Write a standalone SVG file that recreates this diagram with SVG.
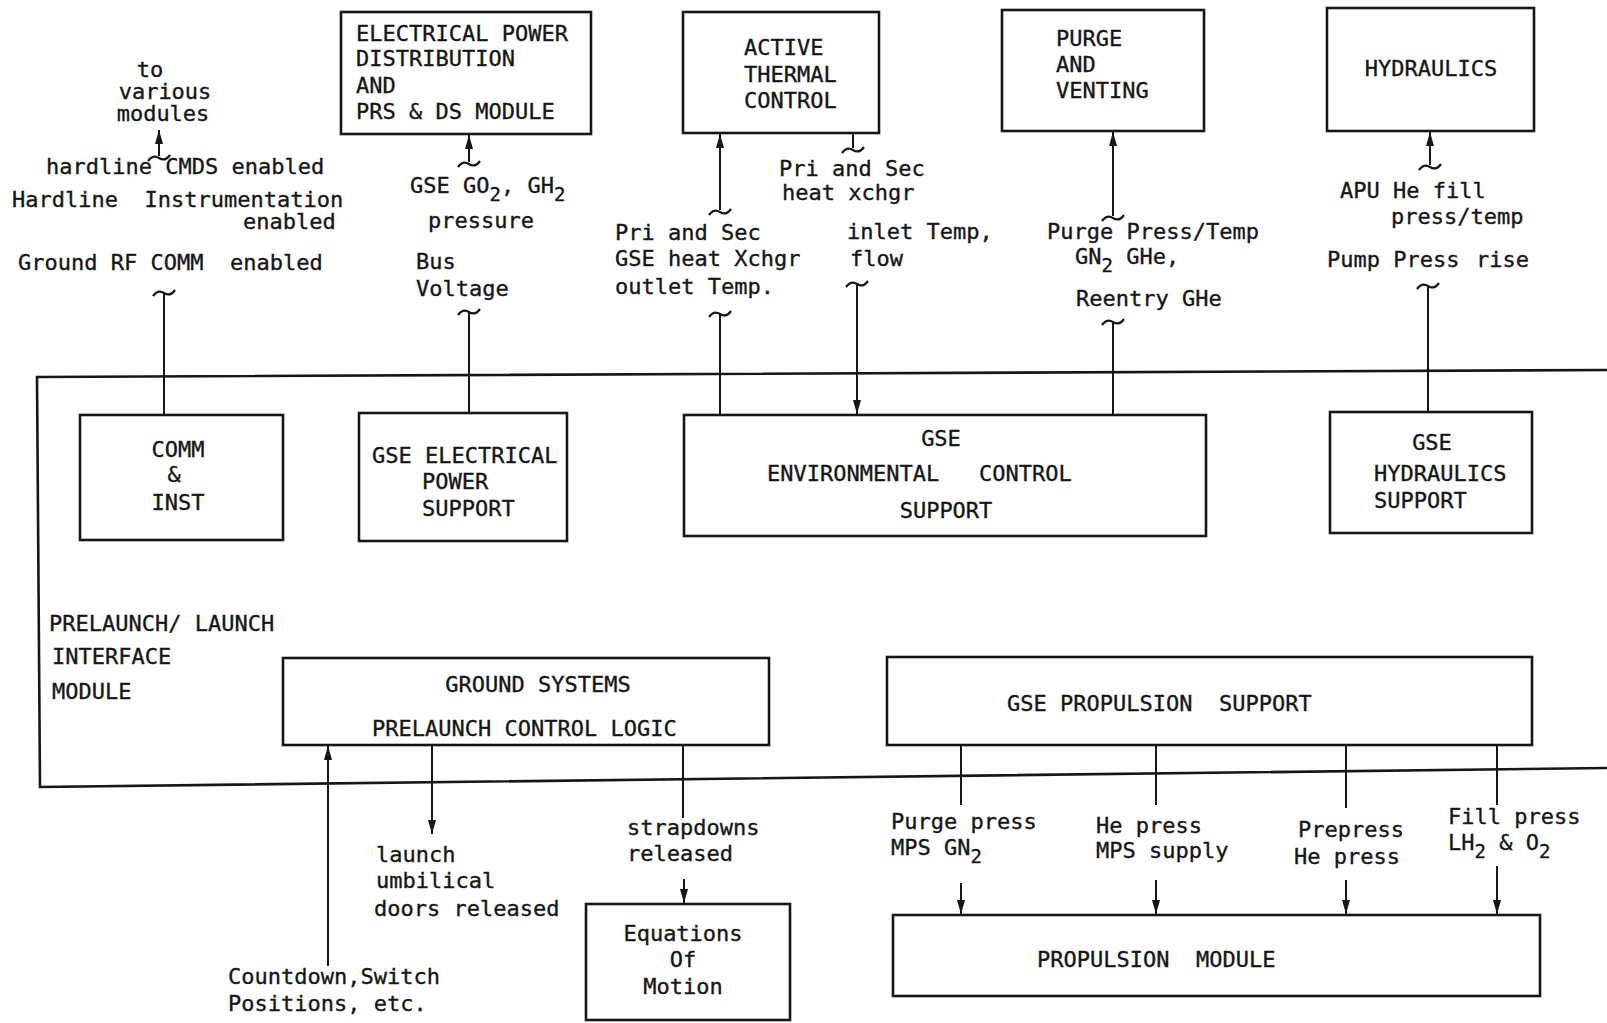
<svg xmlns="http://www.w3.org/2000/svg" xmlns:xlink="http://www.w3.org/1999/xlink" width="1607" height="1023" viewBox="0 0 1607 1023">
<style>
text{font-family:"DejaVu Sans Mono","Liberation Mono",monospace;font-size:22px;fill:#161616;stroke:#161616;stroke-width:0.35;white-space:pre}
.c{text-anchor:middle}
.box{fill:none;stroke:#161616;stroke-width:2.6}
.ln{fill:none;stroke:#161616;stroke-width:2}
.sub{font-size:19px}
</style>
<defs>
<marker id="ah" viewBox="0 0 14 8" markerWidth="14" markerHeight="8" refX="14" refY="4" orient="auto" markerUnits="userSpaceOnUse">
<path d="M0,0 L14,4 L0,8 z" fill="#161616"/>
</marker>
<path id="tl" d="M-11,4 q5,-7 11,-3 t11,-3" fill="none" stroke="#161616" stroke-width="2.2"/>
</defs>
<rect width="1607" height="1023" fill="#ffffff"/>

<g id="boundary">
<path class="box" d="M1607,370 L37,377 L40,787 L1607,768"/>
<text x="49" y="631">PRELAUNCH/ LAUNCH</text>
<text x="52" y="664">INTERFACE</text>
<text x="52" y="699">MODULE</text>
</g>

<g id="n-elec-dist">
<rect class="box" x="341" y="12" width="250" height="122"/>
<text x="356" y="41">ELECTRICAL POWER</text>
<text x="356" y="66">DISTRIBUTION</text>
<text x="356" y="93">AND</text>
<text x="356" y="119">PRS &amp; DS MODULE</text>
</g>
<g id="n-thermal">
<rect class="box" x="683" y="12" width="196" height="121"/>
<text x="744" y="55">ACTIVE</text>
<text x="744" y="82">THERMAL</text>
<text x="744" y="108">CONTROL</text>
</g>
<g id="n-purge">
<rect class="box" x="1002" y="10" width="202" height="121"/>
<text x="1056" y="46">PURGE</text>
<text x="1056" y="72">AND</text>
<text x="1056" y="98">VENTING</text>
</g>
<g id="n-hydraulics">
<rect class="box" x="1327" y="8" width="207" height="123"/>
<text class="c" x="1431" y="76">HYDRAULICS</text>
</g>

<g id="n-comm">
<rect class="box" x="80" y="415" width="203" height="125"/>
<text class="c" x="178" y="457">COMM</text>
<text class="c" x="174" y="482">&amp;</text>
<text class="c" x="178" y="510">INST</text>
</g>
<g id="n-gse-elec">
<rect class="box" x="359" y="413" width="208" height="128"/>
<text x="372" y="463">GSE ELECTRICAL</text>
<text x="422" y="489">POWER</text>
<text x="422" y="516">SUPPORT</text>
</g>
<g id="n-gse-env">
<rect class="box" x="684" y="415" width="522" height="121"/>
<text class="c" x="941" y="446">GSE</text>
<text x="767" y="481">ENVIRONMENTAL   CONTROL</text>
<text class="c" x="946" y="518">SUPPORT</text>
</g>
<g id="n-gse-hyd">
<rect class="box" x="1330" y="412" width="202" height="121"/>
<text class="c" x="1432" y="450">GSE</text>
<text x="1374" y="481">HYDRAULICS</text>
<text x="1374" y="508">SUPPORT</text>
</g>
<g id="n-ground">
<rect class="box" x="283" y="658" width="486" height="87"/>
<text class="c" x="538" y="692">GROUND SYSTEMS</text>
<text x="372" y="736">PRELAUNCH CONTROL LOGIC</text>
</g>
<g id="n-gse-prop">
<rect class="box" x="887" y="657" width="645" height="88"/>
<text x="1007" y="711">GSE PROPULSION  SUPPORT</text>
</g>
<g id="n-eom">
<rect class="box" x="586" y="904" width="204" height="116"/>
<text class="c" x="683" y="941">Equations</text>
<text class="c" x="683" y="967">Of</text>
<text class="c" x="683" y="994">Motion</text>
</g>
<g id="n-prop-mod">
<rect class="box" x="893" y="915" width="647" height="81"/>
<text x="1037" y="967">PROPULSION  MODULE</text>
</g>

<g id="connectors">
<path class="ln" d="M159,156 L159,130" marker-end="url(#ah)"/>
<use xlink:href="#tl" x="159" y="157"/>
<path class="ln" d="M469,162 L469,135" marker-end="url(#ah)"/>
<use xlink:href="#tl" x="469" y="163"/>
<path class="ln" d="M720,210 L720,134" marker-end="url(#ah)"/>
<use xlink:href="#tl" x="720" y="211"/>
<path class="ln" d="M853,134 L853,148"/>
<use xlink:href="#tl" x="853" y="149"/>
<path class="ln" d="M1113,216 L1113,132" marker-end="url(#ah)"/>
<use xlink:href="#tl" x="1113" y="217"/>
<path class="ln" d="M1430,165 L1430,132" marker-end="url(#ah)"/>
<use xlink:href="#tl" x="1430" y="166"/>

<path class="ln" d="M164,415 L164,292"/>
<use xlink:href="#tl" x="164" y="292"/>
<path class="ln" d="M469,413 L469,311"/>
<use xlink:href="#tl" x="469" y="311"/>
<path class="ln" d="M720,415 L720,313"/>
<use xlink:href="#tl" x="720" y="313"/>
<path class="ln" d="M857,283 L857,414" marker-end="url(#ah)"/>
<use xlink:href="#tl" x="857" y="283"/>
<path class="ln" d="M1113,415 L1113,321"/>
<use xlink:href="#tl" x="1113" y="321"/>
<path class="ln" d="M1428,412 L1428,285"/>
<use xlink:href="#tl" x="1428" y="285"/>

<path class="ln" d="M328,966 L328,746" marker-end="url(#ah)"/>
<path class="ln" d="M432,745 L432,834" marker-end="url(#ah)"/>
<path class="ln" d="M683,745 L683,818"/>
<path class="ln" d="M684,879 L684,903" marker-end="url(#ah)"/>
<path class="ln" d="M961,745 L961,805"/>
<path class="ln" d="M1156,745 L1156,805"/>
<path class="ln" d="M1346,745 L1346,808"/>
<path class="ln" d="M1497,745 L1497,805"/>
<path class="ln" d="M961,883 L961,914" marker-end="url(#ah)"/>
<path class="ln" d="M1156,880 L1156,914" marker-end="url(#ah)"/>
<path class="ln" d="M1346,880 L1346,914" marker-end="url(#ah)"/>
<path class="ln" d="M1497,866 L1497,914" marker-end="url(#ah)"/>
</g>

<g id="labels">
<text class="c" x="150" y="77">to</text>
<text class="c" x="165" y="99">various</text>
<text class="c" x="163" y="121">modules</text>
<text x="46" y="174">hardline CMDS enabled</text>
<text x="12" y="207">Hardline  Instrumentation</text>
<text x="243" y="229">enabled</text>
<text x="18" y="270">Ground RF COMM  enabled</text>

<text x="410" y="193">GSE GO<tspan class="sub" dy="8">2</tspan><tspan dy="-8">, GH</tspan><tspan class="sub" dy="8">2</tspan></text>
<text x="428" y="228">pressure</text>
<text x="416" y="269">Bus</text>
<text x="416" y="296">Voltage</text>

<text x="779" y="176">Pri and Sec</text>
<text x="782" y="200">heat xchgr</text>
<text x="615" y="240">Pri and Sec</text>
<text x="615" y="266">GSE heat Xchgr</text>
<text x="615" y="294">outlet Temp.</text>
<text x="847" y="239">inlet Temp,</text>
<text x="850" y="266">flow</text>

<text x="1047" y="239">Purge Press/Temp</text>
<text x="1075" y="264">GN<tspan class="sub" dy="8">2</tspan><tspan dy="-8"> GHe,</tspan></text>
<text x="1076" y="306">Reentry GHe</text>

<text x="1340" y="198">APU He fill</text>
<text x="1391" y="224">press/temp</text>
<text x="1327" y="267">Pump Press <tspan x="1476">rise</tspan></text>

<text x="376" y="862">launch</text>
<text x="376" y="888">umbilical</text>
<text x="374" y="916">doors released</text>
<text x="627" y="835">strapdowns</text>
<text x="627" y="861">released</text>
<text x="228" y="984">Countdown,Switch</text>
<text x="228" y="1011">Positions, etc.</text>

<text x="891" y="829">Purge press</text>
<text x="891" y="855">MPS GN<tspan class="sub" dy="8">2</tspan></text>
<text x="1096" y="833">He press</text>
<text x="1096" y="858">MPS supply</text>
<text x="1298" y="837">Prepress</text>
<text x="1294" y="864">He press</text>
<text x="1448" y="824">Fill press</text>
<text x="1448" y="850">LH<tspan class="sub" dy="8">2</tspan><tspan dy="-8"> &amp; O</tspan><tspan class="sub" dy="8">2</tspan></text>
</g>
</svg>
